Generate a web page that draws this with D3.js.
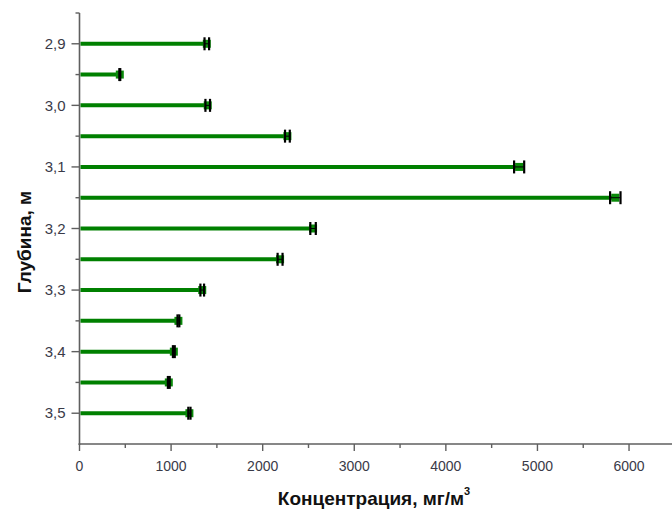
<!DOCTYPE html>
<html>
<head>
<meta charset="utf-8">
<script src="https://cdn.jsdelivr.net/npm/d3@7/dist/d3.min.js"></script>
<style>
  html, body { margin: 0; padding: 0; background: #fff; }
  svg { display: block; }
  text { font-family: "Liberation Sans", Arial, sans-serif; }
</style>
</head>
<body>
<svg id="chart" width="672" height="511"></svg>
<script>
// Depth of each sample, m
const depths = [2.90, 2.95, 3.00, 3.05, 3.10, 3.15, 3.20, 3.25, 3.30, 3.35, 3.40, 3.45, 3.50];
// Concentration at each depth, mg/m3
const concentrations = [1390, 440, 1400, 2270, 4800, 5850, 2550, 2190, 1340, 1080, 1030, 975, 1200];
// Measurement error (±), mg/m3
const errors = [25, 5, 25, 26, 55, 57, 30, 27, 20, 10, 10, 10, 12];
// Axis ticks
const yMajorTicks = [2.9, 3.0, 3.1, 3.2, 3.3, 3.4, 3.5];
const yMinorTicks = [2.85, 2.95, 3.05, 3.15, 3.25, 3.35, 3.45];
const xMajorTicks = [0, 1000, 2000, 3000, 4000, 5000, 6000];
const xMinorTicks = [500, 1500, 2500, 3500, 4500, 5500];

const svg = d3.select("#chart");

const x = d3.scaleLinear().domain([0, 6480]).range([79.5, 673]);
const y = d3.scaleLinear().domain([2.85, 3.55]).range([13, 444]);

const axisColor = "#5f5f5f";
const labelColor = "#3a3a48";
const fmt = d => d3.format(".1f")(d).replace(".", ",");

// Y axis
const yAxis = svg.append("g").attr("transform", `translate(${x(0)},0)`);
yAxis.append("line").attr("y1", y(2.85)).attr("y2", y(3.55) + 1)
  .attr("stroke", axisColor).attr("stroke-width", 1.6);
yAxis.selectAll(".ymaj").data(yMajorTicks).join("line")
  .attr("x1", -8).attr("x2", 0).attr("y1", d => y(d)).attr("y2", d => y(d))
  .attr("stroke", axisColor).attr("stroke-width", 1.4);
yAxis.selectAll(".ymin").data(yMinorTicks).join("line")
  .attr("x1", -4).attr("x2", 0).attr("y1", d => y(d)).attr("y2", d => y(d))
  .attr("stroke", axisColor).attr("stroke-width", 1.4);
yAxis.selectAll(".ylab").data(yMajorTicks).join("text")
  .attr("x", -14).attr("y", d => y(d)).attr("dy", "0.35em")
  .attr("text-anchor", "end").attr("font-size", 15).attr("fill", labelColor)
  .text(fmt);

// X axis
const xAxis = svg.append("g").attr("transform", `translate(0,${y(3.55)})`);
xAxis.append("line").attr("x1", x(0) - 1).attr("x2", x.range()[1])
  .attr("stroke", axisColor).attr("stroke-width", 1.6);
xAxis.selectAll(".xmaj").data(xMajorTicks).join("line")
  .attr("x1", d => x(d)).attr("x2", d => x(d)).attr("y1", 0).attr("y2", 7)
  .attr("stroke", axisColor).attr("stroke-width", 1.4);
xAxis.selectAll(".xmin").data(xMinorTicks).join("line")
  .attr("x1", d => x(d)).attr("x2", d => x(d)).attr("y1", 0).attr("y2", 4)
  .attr("stroke", axisColor).attr("stroke-width", 1.4);
xAxis.selectAll(".xlab").data(xMajorTicks).join("text")
  .attr("x", d => x(d)).attr("y", 22).attr("dy", "0.35em")
  .attr("text-anchor", "middle").attr("font-size", 14).attr("fill", labelColor)
  .text(d => d);

// Axis titles
const xTitle = svg.append("text")
  .attr("x", 374).attr("y", 505).attr("text-anchor", "middle")
  .attr("font-size", 19).attr("font-weight", "bold").attr("fill", "#111");
xTitle.append("tspan").text("Концентрация, мг/м");
xTitle.append("tspan").attr("font-size", 11).attr("dy", -10).text("3");

svg.append("text")
  .attr("transform", `translate(31,${242}) rotate(-90)`)
  .attr("text-anchor", "middle")
  .attr("font-size", 19).attr("font-weight", "bold").attr("fill", "#111")
  .text("Глубина, м");

// Horizontal bars
const rows = depths.map((d, i) => ({ depth: d, value: concentrations[i], err: errors[i] }));
const plot = svg.append("g");

plot.selectAll(".bar").data(rows).join("line")
  .attr("x1", x(0) + 1).attr("x2", d => x(d.value))
  .attr("y1", d => y(d.depth)).attr("y2", d => y(d.depth))
  .attr("stroke", "#008000").attr("stroke-width", 4);

// Point markers
plot.selectAll(".pt").data(rows).join("rect")
  .attr("x", d => x(d.value) - 4).attr("y", d => y(d.depth) - 4)
  .attr("width", 8).attr("height", 8)
  .attr("fill", "#0a8a0a");

// Error bars
const eb = plot.selectAll(".eb").data(rows).join("g");
eb.append("line")
  .attr("x1", d => x(d.value - d.err)).attr("x2", d => x(d.value + d.err))
  .attr("y1", d => y(d.depth)).attr("y2", d => y(d.depth))
  .attr("stroke", "#000").attr("stroke-width", 1);
eb.append("line")
  .attr("x1", d => x(d.value - d.err)).attr("x2", d => x(d.value - d.err))
  .attr("y1", d => y(d.depth) - 6.5).attr("y2", d => y(d.depth) + 6.5)
  .attr("stroke", "#000").attr("stroke-width", 2.2);
eb.append("line")
  .attr("x1", d => x(d.value + d.err)).attr("x2", d => x(d.value + d.err))
  .attr("y1", d => y(d.depth) - 6.5).attr("y2", d => y(d.depth) + 6.5)
  .attr("stroke", "#000").attr("stroke-width", 2.2);
</script>
</body>
</html>
